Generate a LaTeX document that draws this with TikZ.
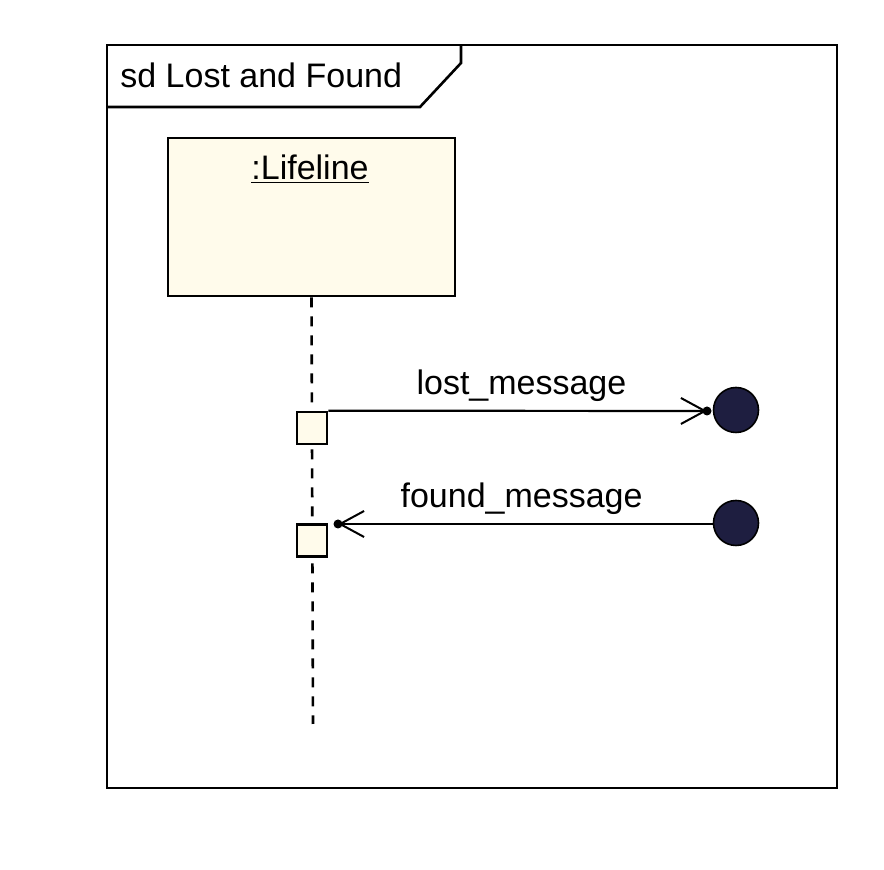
\documentclass[tikz,border=0pt]{standalone}
\usepackage{fontspec}
\setmainfont{Liberation Sans}
\usepackage{tikz}
\usepackage{xcolor}
\usetikzlibrary{arrows.meta}

\definecolor{lifefill}{RGB}{255,251,235}
\definecolor{endfill}{RGB}{30,30,64}

\tikzset{
	lifebox/.style={draw, line width=1.3pt, fill=lifefill, minimum width=143.5pt, minimum height=79pt, inner sep=0pt},
	actbox/.style={draw, line width=1.3pt, fill=lifefill, minimum width=15pt, minimum height=16pt, inner sep=0pt},
	endpoint/.style={circle, draw, line width=0.8pt, fill=endfill, minimum size=22.5pt, inner sep=0pt},
	msg/.style={line width=1.1pt, -{Straight Barb[length=12pt, width=13pt, line width=1pt]}},
	msgdot/.style={circle, fill, minimum size=4.5pt, inner sep=0pt},
	msglabel/.style={inner sep=0pt}
}

\begin{document}
\begin{tikzpicture}[x=0.5pt, y=-0.5pt, font=\fontsize{17}{20}\selectfont]

		\useasboundingbox (0,0) rectangle (884,870);

		% frame and its tab
		\draw[line width=1.3pt] (107,45) rectangle (837,788);
		\draw[line width=1.3pt] (107,107) -- (420,107) -- (461,63) -- (461,45);
		\node[anchor=west, inner sep=0pt] (title) at (120,75) {sd Lost and Found};

		% lifeline
		\node[lifebox] (life) at (311.5,217) {};
		\node[inner sep=0pt] (lifename) at (310,169) {\underline{:Lifeline}};
		\coordinate (lifeend) at (313,724);
		\draw[line width=1.3pt, dash pattern=on 5pt off 4.5pt] (life.south) -- (lifeend);

		\node[actbox] (act1) at (312,428) {};
		\node[actbox] (act2) at (312,540.5) {};

		% lost and found ends
		\node[endpoint] (lostend) at (736,410) {};
		\node[endpoint] (foundend) at (736,523) {};
		\coordinate (lostdot) at (707,411);
		\coordinate (founddot) at (338,524);

		\draw[msg] (act1.north east) -- (lostdot) node[msglabel, pos=0.51, above=4pt] {lost\_message};
		\draw[msg] (foundend.west |- founddot) -- (founddot) node[msglabel, pos=0.51, above=4pt] {found\_message};
		\node[msgdot] at (lostdot) {};
		\node[msgdot] at (founddot) {};

\end{tikzpicture}
\end{document}
